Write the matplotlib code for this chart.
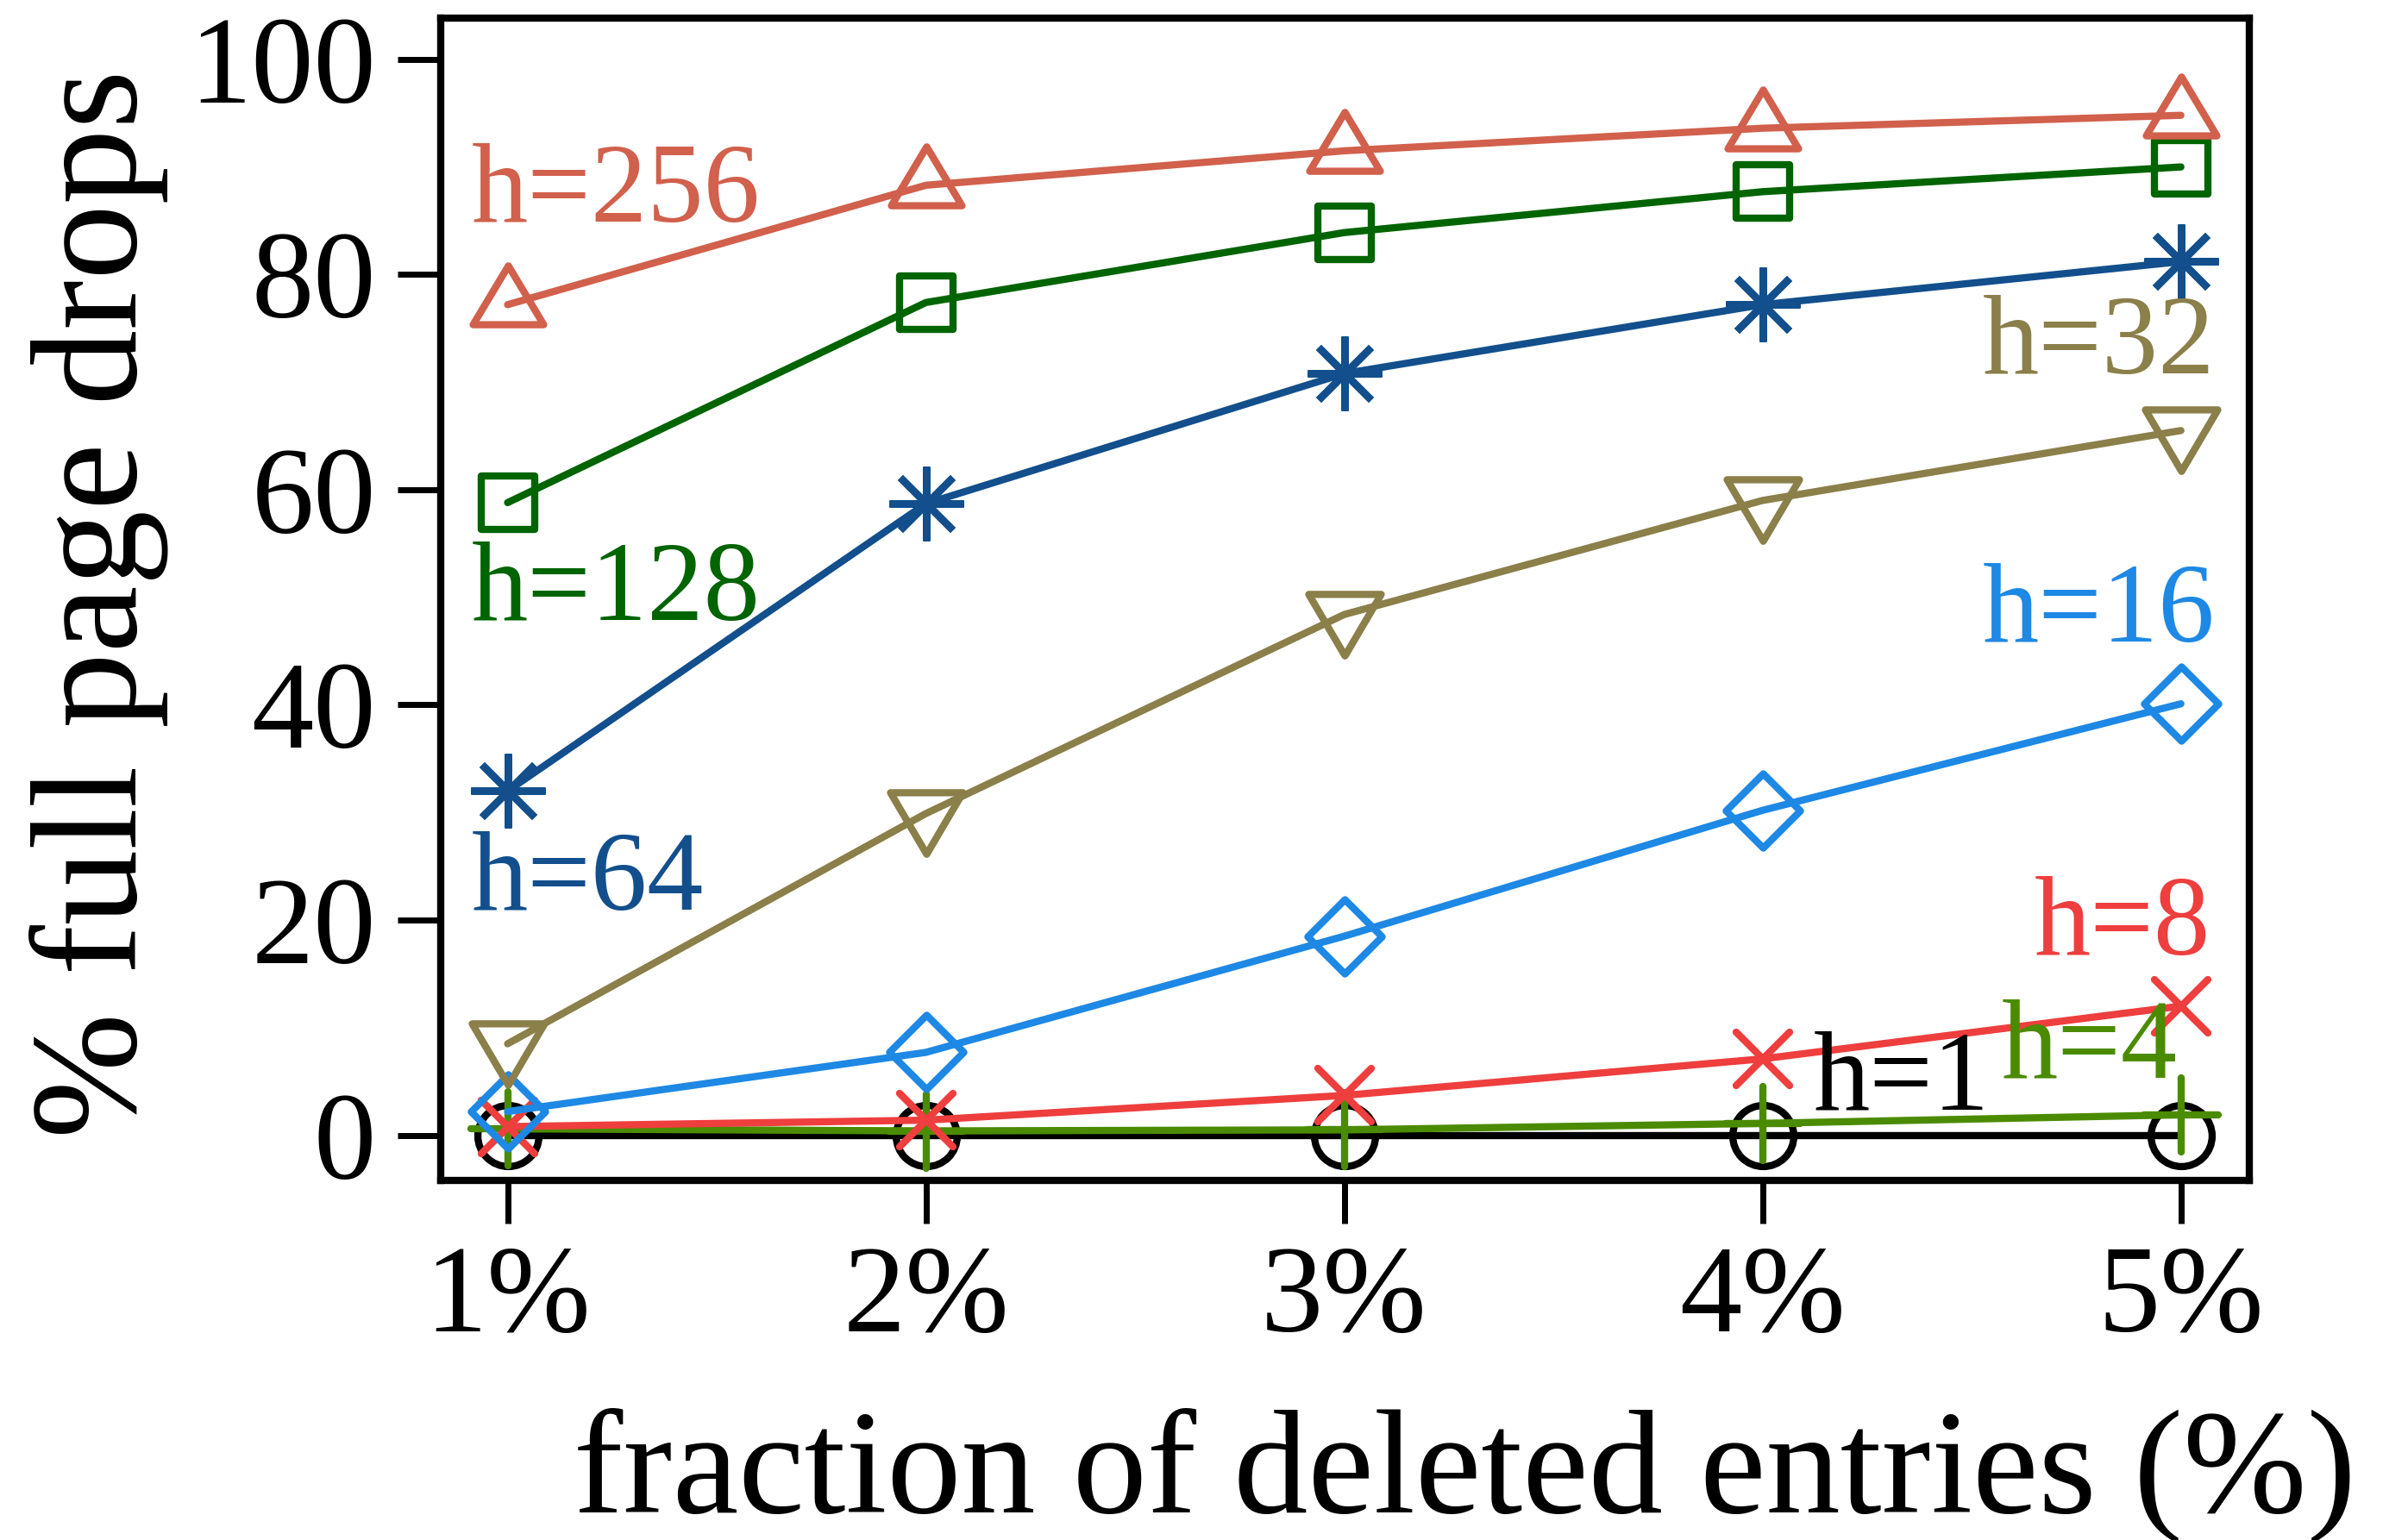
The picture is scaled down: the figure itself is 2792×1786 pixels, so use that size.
import numpy as np
import matplotlib
matplotlib.use('Agg')
import matplotlib.pyplot as plt
from matplotlib.markers import MarkerStyle
from matplotlib.path import Path

# fraction of deleted entries (x) and % full page drops for each h
frac = [1, 2, 3, 4, 5]
frac_labels = ['1%', '2%', '3%', '4%', '5%']
h1 = [0.0, 0.0, 0.0, 0.0, 0.0]
h4 = [0.6, 0.4, 0.5, 1.1, 1.9]
h8 = [0.8, 1.4, 3.7, 7.1, 12.0]
h16 = [2.2, 7.7, 18.5, 30.2, 40.1]
h32 = [8.5, 29.9, 48.4, 59.0, 65.5]
h64 = [32.0, 58.7, 70.8, 77.2, 81.2]
h128 = [58.8, 77.4, 83.9, 87.7, 90.0]
h256 = [77.2, 88.3, 91.5, 93.6, 94.8]
yticks = [0, 20, 40, 60, 80, 100]

plt.rcParams['font.family'] = ['Liberation Serif', 'DejaVu Serif']

# marker shapes
tri_up = MarkerStyle(Path([(0, 43), (-39, -22), (39, -22), (0, 43)], closed=True), joinstyle='round')
tri_dn = MarkerStyle(Path([(0, -45), (-40, 23), (40, 23), (0, -45)], closed=True), joinstyle='round')
diamond = MarkerStyle(Path([(0, 1), (1, 0), (0, -1), (-1, 0), (0, 1)], closed=True), joinstyle='round')
square = MarkerStyle('s', joinstyle='round')
star = MarkerStyle((8, 2, 0), capstyle='round')
cross = MarkerStyle('x', capstyle='round')
plus = MarkerStyle('+', capstyle='round')
circ = MarkerStyle('o')

series = [
    (h1, 'black', circ, 51),
    (h4, '#4b8b00', plus, 62),
    (h8, '#ee3e3e', cross, 44),
    (h16, '#1e88e5', diamond, 62),
    (h32, '#8b7f4a', tri_dn, 68),
    (h64, '#124f8c', star, 62),
    (h128, '#006400', square, 45),
    (h256, '#d1604c', tri_up, 65),
]

fig = plt.figure(figsize=(27.92, 17.86), dpi=100)
ax = fig.add_axes([0.183, 0.2335, 0.751, 0.7545])

for vals, col, mk, ms in series:
    ax.plot(frac, vals, color=col, lw=6, marker=mk, markersize=ms,
            markerfacecolor='none', markeredgecolor=col, markeredgewidth=6,
            solid_capstyle='round', solid_joinstyle='round')

ax.set_xlim(0.84, 5.163)
ax.set_ylim(-4.2, 103.8)
ax.set_xticks(frac)
ax.set_xticklabels(frac_labels)
ax.set_yticks(yticks)
ax.tick_params(direction='out', length=36, width=5, pad=18, labelsize=104,
               top=False, right=False)
for sp in ax.spines.values():
    sp.set_linewidth(6)

fs = 94
ax.text(0.913, 84.9, 'h=256', color='#d1604c', fontsize=fs, va='baseline', ha='left')
ax.text(0.913, 47.9, 'h=128', color='#006400', fontsize=fs, va='baseline', ha='left')
ax.text(0.913, 21.0, 'h=64', color='#124f8c', fontsize=fs, va='baseline', ha='left')
ax.text(5.082, 70.8, 'h=32', color='#8b7f4a', fontsize=fs, va='baseline', ha='right')
ax.text(5.082, 45.9, 'h=16', color='#1e88e5', fontsize=fs, va='baseline', ha='right')
ax.text(5.070, 16.8, 'h=8', color='#ee3e3e', fontsize=fs, va='baseline', ha='right')
ax.text(4.571, 5.4, 'h=4', color='#4b8b00', fontsize=fs, va='baseline', ha='left')
ax.text(4.122, 2.4, 'h=1', color='black', fontsize=fs, va='baseline', ha='left')

fig.text(0.6085, 0.018, 'fraction of deleted entries (%)', fontsize=124,
         ha='center', va='baseline')
fig.text(0.012, 0.608, '% full page drops', fontsize=126, rotation=90,
         ha='left', va='center')

fig.savefig('out.png', dpi=100)
